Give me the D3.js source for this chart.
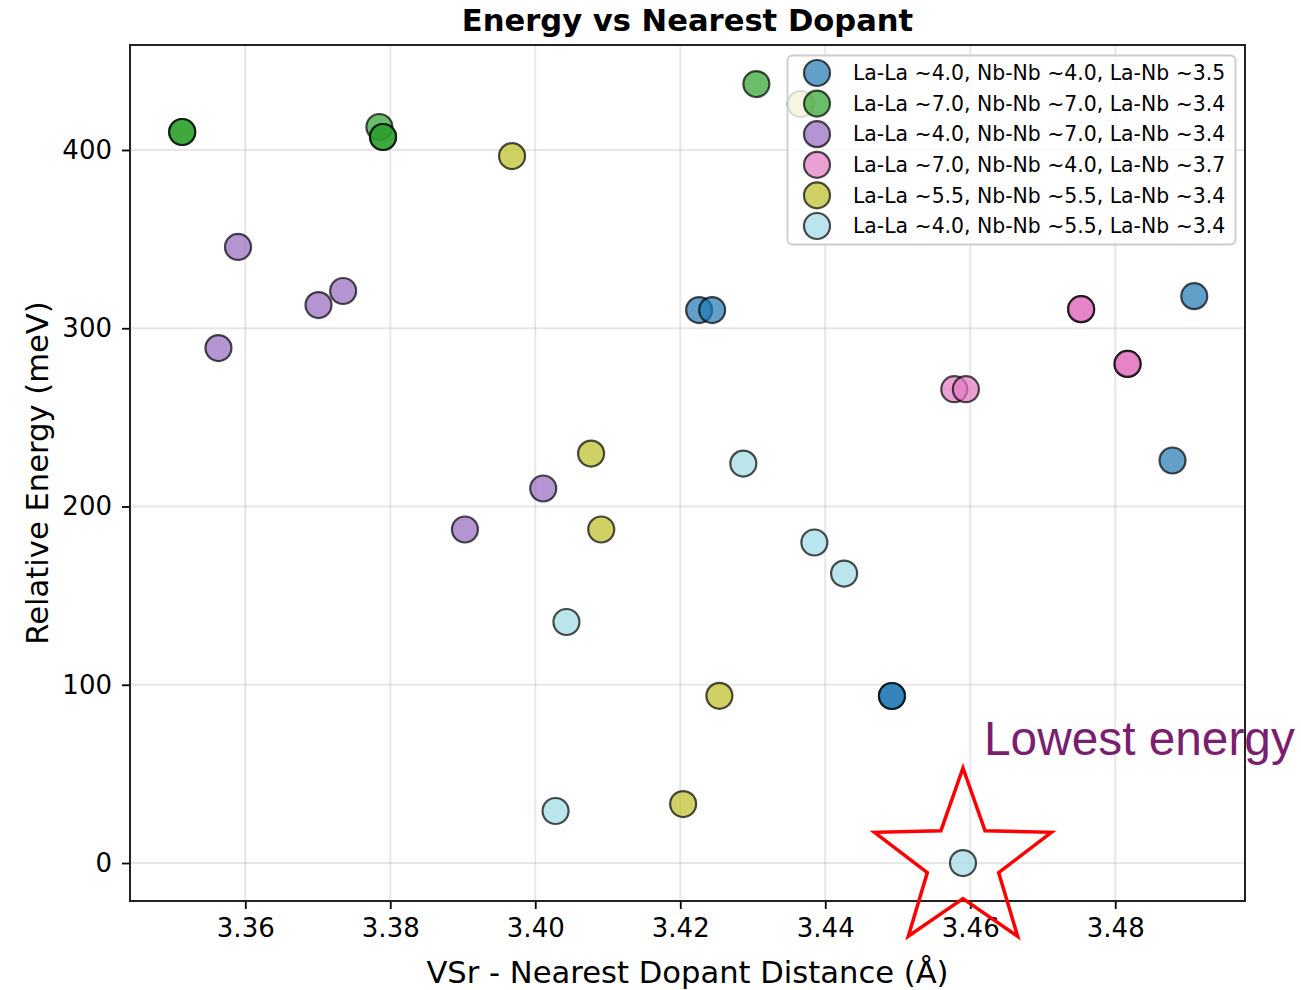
<!DOCTYPE html>
<html>
<head>
<meta charset="utf-8">
<script src="https://cdn.jsdelivr.net/npm/d3@7"></script>
<style>
  html, body { margin: 0; padding: 0; background: #ffffff; }
  svg { display: block; }
</style>
</head>
<body>
<div id="chart"></div>
<script>
// Series labels (legend order = draw order)
const seriesLabels = [
  "La-La ~4.0, Nb-Nb ~4.0, La-Nb ~3.5",
  "La-La ~7.0, Nb-Nb ~7.0, La-Nb ~3.4",
  "La-La ~4.0, Nb-Nb ~7.0, La-Nb ~3.4",
  "La-La ~7.0, Nb-Nb ~4.0, La-Nb ~3.7",
  "La-La ~5.5, Nb-Nb ~5.5, La-Nb ~3.4",
  "La-La ~4.0, Nb-Nb ~5.5, La-Nb ~3.4"
];
const seriesColors = ["#1f77b4", "#2ca02c", "#9467bd", "#e377c2", "#bcbd22", "#9edae5"];

// Nearest dopant distance (Å) per configuration
const distBlue   = [3.4226, 3.4244, 3.4909, 3.4879, 3.4492, 3.4492];
const distGreen  = [3.3513, 3.3513, 3.3785, 3.3790, 3.3790, 3.4305];
const distPurple = [3.3590, 3.3701, 3.3735, 3.3563, 3.4011, 3.3903];
const distPink   = [3.4753, 3.4753, 3.4817, 3.4817, 3.4578, 3.4594];
const distOlive  = [3.3968, 3.4077, 3.4091, 3.4254, 3.4204, 3.4366];
const distCyan   = [3.4287, 3.4385, 3.4426, 3.4043, 3.4028, 3.4590];

// Relative energy (meV) per configuration
const energyBlue   = [310.2, 310.2, 318.0, 225.8, 93.7, 93.7];
const energyGreen  = [410.1, 410.1, 412.9, 407.3, 407.3, 437.0];
const energyPurple = [345.6, 313.0, 320.9, 288.9, 210.1, 187.1];
const energyPink   = [310.7, 310.7, 280.0, 280.0, 265.8, 265.8];
const energyOlive  = [396.6, 229.7, 187.1, 93.8, 33.1, 425.8];
const energyCyan   = [224.1, 179.8, 162.4, 135.2, 29.2, 0.0];

const xTicks = [3.36, 3.38, 3.40, 3.42, 3.44, 3.46, 3.48];
const yTicks = [0, 100, 200, 300, 400];

const chartTitle = "Energy vs Nearest Dopant";
const xLabel = "VSr - Nearest Dopant Distance (Å)";
const yLabel = "Relative Energy (meV)";
const noteText = "Lowest energy";

const seriesDist = [distBlue, distGreen, distPurple, distPink, distOlive, distCyan];
const seriesEnergy = [energyBlue, energyGreen, energyPurple, energyPink, energyOlive, energyCyan];
const series = seriesLabels.map((label, i) => ({
  label, color: seriesColors[i],
  points: seriesDist[i].map((d, j) => ({ x: d, y: seriesEnergy[i][j] }))
}));

const W = 1301, H = 990;
const plot = { left: 130, right: 1245, top: 45, bottom: 901 };
const FONT = "'DejaVu Sans', sans-serif";

const x = d3.scaleLinear().domain([3.3441, 3.4979]).range([plot.left, plot.right]);
const y = d3.scaleLinear().domain([-21.3, 458.9]).range([plot.bottom, plot.top]);

const svg = d3.select("#chart").append("svg")
  .attr("width", W).attr("height", H)
  .attr("viewBox", `0 0 ${W} ${H}`);

svg.append("rect").attr("width", W).attr("height", H).attr("fill", "#ffffff");

// Grid
const grid = svg.append("g");
grid.selectAll("line.gx").data(xTicks).join("line")
  .attr("x1", d => x(d)).attr("x2", d => x(d))
  .attr("y1", plot.top).attr("y2", plot.bottom)
  .attr("stroke", "#b0b0b0").attr("stroke-opacity", 0.3).attr("stroke-width", 2);
grid.selectAll("line.gy").data(yTicks).join("line")
  .attr("x1", plot.left).attr("x2", plot.right)
  .attr("y1", d => y(d)).attr("y2", d => y(d))
  .attr("stroke", "#b0b0b0").attr("stroke-opacity", 0.3).attr("stroke-width", 2);

// Axes
const xAxis = d3.axisBottom(x).tickValues(xTicks).tickFormat(d3.format(".2f"))
  .tickSize(8).tickPadding(10);
const yAxis = d3.axisLeft(y).tickValues(yTicks).tickFormat(d3.format("d"))
  .tickSize(8).tickPadding(10);

const gx = svg.append("g").attr("transform", `translate(0,${plot.bottom})`).call(xAxis);
const gy = svg.append("g").attr("transform", `translate(${plot.left},0)`).call(yAxis);
[gx, gy].forEach(g => {
  g.select(".domain").remove();
  g.selectAll(".tick line").attr("stroke", "#000").attr("stroke-width", 1.8);
  g.selectAll(".tick text").attr("fill", "#000")
    .style("font-family", FONT).style("font-size", "26px");
});

// Scatter points
const marks = svg.append("g");
series.forEach(s => {
  marks.append("g").selectAll("circle").data(s.points).join("circle")
    .attr("cx", d => x(d.x)).attr("cy", d => y(d.y)).attr("r", 13)
    .attr("fill", s.color).attr("fill-opacity", 0.7)
    .attr("stroke", "#000").attr("stroke-opacity", 0.7).attr("stroke-width", 2.2);
});

// Legend
const leg = { x: 787, y: 55, w: 448, h: 189, row: 30.6, first: 73 };
const lg = svg.append("g");
lg.append("rect")
  .attr("x", leg.x + 0.5).attr("y", leg.y + 0.5).attr("width", leg.w).attr("height", leg.h)
  .attr("rx", 5).attr("fill", "#ffffff").attr("fill-opacity", 0.8)
  .attr("stroke", "#cccccc").attr("stroke-width", 1.8);
const items = lg.selectAll("g.item").data(series).join("g")
  .attr("transform", (d, i) => `translate(0,${leg.first + i * leg.row})`);
items.append("circle").attr("cx", 817).attr("cy", 0).attr("r", 13)
  .attr("fill", d => d.color).attr("fill-opacity", 0.7)
  .attr("stroke", "#000").attr("stroke-opacity", 0.7).attr("stroke-width", 2.2);
items.append("text").attr("x", 853).attr("y", 0).attr("dy", "0.35em")
  .style("font-family", FONT).style("font-size", "20.4px").attr("fill", "#000")
  .text(d => d.label);

// Plot frame
svg.append("rect")
  .attr("x", plot.left).attr("y", plot.top)
  .attr("width", plot.right - plot.left).attr("height", plot.bottom - plot.top)
  .attr("fill", "none").attr("stroke", "#222").attr("stroke-width", 2);

// Titles
svg.append("text").attr("x", (plot.left + plot.right) / 2).attr("y", 31)
  .attr("text-anchor", "middle").style("font-family", FONT)
  .style("font-size", "30.6px").style("font-weight", "bold").text(chartTitle);
svg.append("text").attr("x", (plot.left + plot.right) / 2).attr("y", 983)
  .attr("text-anchor", "middle").style("font-family", FONT)
  .style("font-size", "30.6px").text(xLabel);
svg.append("text")
  .attr("transform", `translate(48,${(plot.top + plot.bottom) / 2}) rotate(-90)`)
  .attr("text-anchor", "middle").style("font-family", FONT)
  .style("font-size", "30.6px").text(yLabel);

// Highlight the minimum-energy configuration with a star and a note
const all = series.flatMap(s => s.points);
const best = all.reduce((a, b) => (b.y < a.y ? b : a));
const cx = x(best.x), cy = y(best.y) - 2;
const R = 93, r = 37.5;
const starPts = d3.range(10).map(k => {
  const ang = -Math.PI / 2 + k * Math.PI / 5;
  const rad = k % 2 === 0 ? R : r;
  return [cx + rad * Math.cos(ang), cy + rad * Math.sin(ang)];
});
svg.append("polygon")
  .attr("points", starPts.map(p => p.join(",")).join(" "))
  .attr("fill", "none").attr("stroke", "#ff0000").attr("stroke-width", 3.5)
  .attr("stroke-linejoin", "miter");
svg.append("text").attr("x", cx + 21).attr("y", cy - 106)
  .style("font-family", "'Liberation Sans', Arial, sans-serif")
  .style("font-size", "47.8px").attr("fill", "#7a1f6f").text(noteText);
</script>
</body>
</html>
